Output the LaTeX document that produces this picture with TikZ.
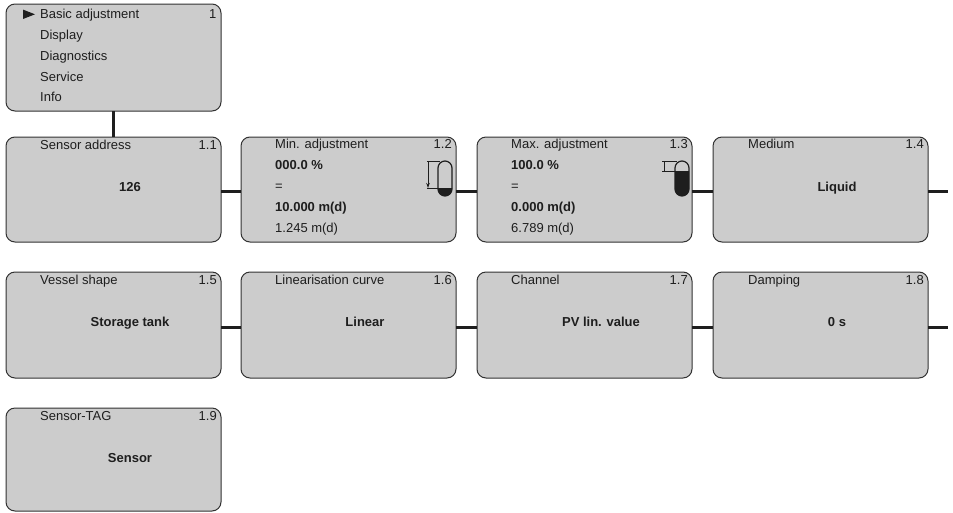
\documentclass[tikz,border=0pt]{standalone}
\usepackage{fontspec}
\setmainfont{Liberation Sans}
\usetikzlibrary{arrows.meta}
\definecolor{boxgray}{RGB}{204,204,204}
\definecolor{edgec}{RGB}{50,50,50}
\definecolor{ink}{RGB}{30,30,30}
\begin{document}
\begin{tikzpicture}[x=1pt,y=-1pt,
  panel/.style={draw=edgec, line width=1pt, fill=boxgray, rounded corners=9pt,
    anchor=north west, minimum width=215pt, inner sep=0pt, outer sep=0pt},
  ttl/.style={anchor=base west, inner sep=0pt, font=\fontsize{13}{15}\selectfont, text=ink},
  bl/.style={ttl, font=\fontsize{13}{15}\selectfont\bfseries},
  idx/.style={anchor=base east, inner sep=0pt, font=\fontsize{13}{15}\selectfont, text=ink},
  valc/.style={anchor=base, inner sep=0pt, font=\fontsize{13}{15}\selectfont\bfseries, text=ink},
  link/.style={line width=2.4pt, draw=ink},
  tube/.style={draw=ink, line width=1.2pt, rounded corners=7pt},
  gauge/.style={draw=ink, line width=0.9pt}]
\useasboundingbox (0,0) rectangle (953,512);

\coordinate (e1) at (948,191.5);
\coordinate (e2) at (948,327.5);

% panels
\node[panel, minimum height=107pt] (menu) at (6,4) {};
\node[panel, minimum height=105pt] (s11) at (6,137) {};
\node[panel, minimum height=105pt] (s12) at (241,137) {};
\node[panel, minimum height=105pt] (s13) at (477,137) {};
\node[panel, minimum height=105pt] (s14) at (713,137) {};
\node[panel, minimum height=106pt] (s15) at (6,272) {};
\node[panel, minimum height=106pt] (s16) at (241,272) {};
\node[panel, minimum height=106pt] (s17) at (477,272) {};
\node[panel, minimum height=106pt] (s18) at (713,272) {};
\node[panel, minimum height=103pt] (s19) at (6,408) {};

% links
\draw[link] (menu.south) -- (s11.north);
\draw[link] ([yshift=-2pt]s11.east) -- ([yshift=-2pt]s12.west);
\draw[link] ([yshift=-2pt]s12.east) -- ([yshift=-2pt]s13.west);
\draw[link] ([yshift=-2pt]s13.east) -- ([yshift=-2pt]s14.west);
\draw[link] ([yshift=-2pt]s14.east) -- (e1);
\draw[link] ([yshift=-2.5pt]s15.east) -- ([yshift=-2.5pt]s16.west);
\draw[link] ([yshift=-2.5pt]s16.east) -- ([yshift=-2.5pt]s17.west);
\draw[link] ([yshift=-2.5pt]s17.east) -- ([yshift=-2.5pt]s18.west);
\draw[link] ([yshift=-2.5pt]s18.east) -- (e2);

% main menu
\fill[ink] (23,9.6) -- (35,14.3) -- (23,19) -- cycle;
\node[ttl] (m1) at ([xshift=34pt,yshift=-14.3pt]menu.north west) {Basic adjustment};
\node[idx] (mn) at ([xshift=-4.5pt,yshift=-14.3pt]menu.north east) {1};
\node[ttl] (m2) at ([xshift=34pt,yshift=-35.3pt]menu.north west) {Display};
\node[ttl] (m3) at ([xshift=34pt,yshift=-56pt]menu.north west) {Diagnostics};
\node[ttl] (m4) at ([xshift=34pt,yshift=-77pt]menu.north west) {Service};
\node[ttl] (m5) at ([xshift=34pt,yshift=-97.7pt]menu.north west) {Info};

% 1.1
\node[ttl] (t11) at ([xshift=34pt,yshift=-12pt]s11.north west) {Sensor address};
\node[idx] (n11) at ([xshift=-4pt,yshift=-12pt]s11.north east) {1.1};
\node[valc] (v11) at ([xshift=124pt,yshift=-54.5pt]s11.north west) {126};

% 1.2
\node[ttl] (t12) at ([xshift=34pt,yshift=-11.5pt]s12.north west) {Min. adjustment};
\node[idx] (n12) at ([xshift=-4pt,yshift=-11.5pt]s12.north east) {1.2};
\node[bl] (a12) at ([xshift=34pt,yshift=-32.5pt]s12.north west) {000.0 \%};
\node[ttl] (b12) at ([xshift=34pt,yshift=-53.5pt]s12.north west) {=};
\node[bl] (c12) at ([xshift=34pt,yshift=-74.5pt]s12.north west) {10.000 m(d)};
\node[ttl] (d12) at ([xshift=34pt,yshift=-95.5pt]s12.north west) {1.245 m(d)};
\begin{scope}
  \clip[rounded corners=7pt] (438,161) rectangle (452,196);
  \fill[ink] (436,188) rectangle (454,198);
\end{scope}
\draw[tube] (438,161) rectangle (452,196);
\draw[gauge] (427,161) -- (440,161);
\draw[gauge] (427,188) -- (440,188);
\draw[gauge, -{Stealth[length=5pt,width=3.5pt]}] (428,161) -- (428,188);

% 1.3
\node[ttl] (t13) at ([xshift=34pt,yshift=-11.5pt]s13.north west) {Max. adjustment};
\node[idx] (n13) at ([xshift=-4pt,yshift=-11.5pt]s13.north east) {1.3};
\node[bl] (a13) at ([xshift=34pt,yshift=-32.5pt]s13.north west) {100.0 \%};
\node[ttl] (b13) at ([xshift=34pt,yshift=-53.5pt]s13.north west) {=};
\node[bl] (c13) at ([xshift=34pt,yshift=-74.5pt]s13.north west) {0.000 m(d)};
\node[ttl] (d13) at ([xshift=34pt,yshift=-95.5pt]s13.north west) {6.789 m(d)};
\begin{scope}
  \clip[rounded corners=7pt] (675,161) rectangle (689,196);
  \fill[ink] (673,171) rectangle (691,198);
\end{scope}
\draw[tube] (675,161) rectangle (689,196);
\draw[gauge] (662,161) -- (677,161);
\draw[gauge] (662,171) -- (677,171);
\draw[gauge] (664,161) -- (664,171);

% 1.4
\node[ttl] (t14) at ([xshift=35pt,yshift=-11.5pt]s14.north west) {Medium};
\node[idx] (n14) at ([xshift=-4pt,yshift=-11.5pt]s14.north east) {1.4};
\node[valc] (v14) at ([xshift=124pt,yshift=-54.5pt]s14.north west) {Liquid};

% 1.5 - 1.8
\node[ttl] (t15) at ([xshift=34pt,yshift=-12pt]s15.north west) {Vessel shape};
\node[idx] (n15) at ([xshift=-4pt,yshift=-12pt]s15.north east) {1.5};
\node[valc] (v15) at ([xshift=124pt,yshift=-54.5pt]s15.north west) {Storage tank};

\node[ttl] (t16) at ([xshift=34pt,yshift=-12pt]s16.north west) {Linearisation curve};
\node[idx] (n16) at ([xshift=-4pt,yshift=-12pt]s16.north east) {1.6};
\node[valc] (v16) at ([xshift=124pt,yshift=-54.5pt]s16.north west) {Linear};

\node[ttl] (t17) at ([xshift=34pt,yshift=-12pt]s17.north west) {Channel};
\node[idx] (n17) at ([xshift=-4pt,yshift=-12pt]s17.north east) {1.7};
\node[valc] (v17) at ([xshift=124pt,yshift=-54.5pt]s17.north west) {PV lin. value};

\node[ttl] (t18) at ([xshift=35pt,yshift=-12pt]s18.north west) {Damping};
\node[idx] (n18) at ([xshift=-4pt,yshift=-12pt]s18.north east) {1.8};
\node[valc] (v18) at ([xshift=124pt,yshift=-54.5pt]s18.north west) {0 s};

% 1.9
\node[ttl] (t19) at ([xshift=34pt,yshift=-12pt]s19.north west) {Sensor-TAG};
\node[idx] (n19) at ([xshift=-4pt,yshift=-12pt]s19.north east) {1.9};
\node[valc] (v19) at ([xshift=124pt,yshift=-54.5pt]s19.north west) {Sensor};
\end{tikzpicture}
\end{document}
